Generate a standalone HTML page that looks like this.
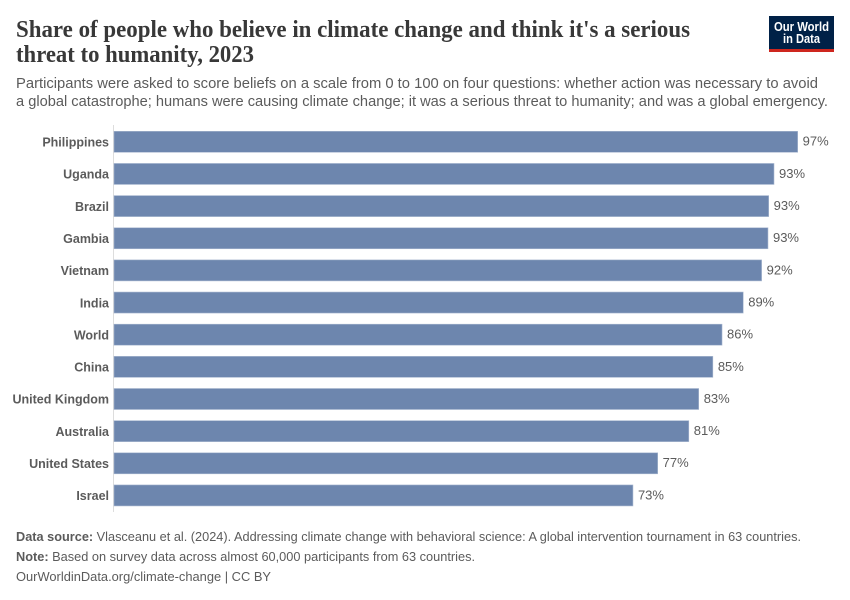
<!DOCTYPE html>
<html lang="en">
<head>
<meta charset="utf-8">
<title>Share of people who believe in climate change</title>
<style>
html,body{margin:0;padding:0;background:#fff;width:850px;height:600px;overflow:hidden}
svg{display:block;font-family:"Liberation Sans",sans-serif}
</style>
</head>
<body>
<svg id="chart" width="850" height="600" viewBox="0 0 850 600" xmlns="http://www.w3.org/2000/svg">
  <rect x="0" y="0" width="850" height="600" fill="#ffffff"/>
  <g font-family="'Liberation Serif',serif" font-weight="700" font-size="24" fill="#383838">
    <text x="16" y="37" textLength="674" lengthAdjust="spacingAndGlyphs">Share of people who believe in climate change and think it's a serious</text>
    <text x="16" y="62" textLength="238" lengthAdjust="spacingAndGlyphs">threat to humanity, 2023</text>
  </g>
  <g font-size="15" fill="#5b5b5b">
    <text x="16" y="88" textLength="802" lengthAdjust="spacingAndGlyphs">Participants were asked to score beliefs on a scale from 0 to 100 on four questions: whether action was necessary to avoid</text>
    <text x="16" y="106" textLength="812" lengthAdjust="spacingAndGlyphs">a global catastrophe; humans were causing climate change; it was a serious threat to humanity; and was a global emergency.</text>
  </g>
  <g>
    <rect x="769" y="16" width="65" height="36" fill="#002147"/>
    <rect x="769" y="49" width="65" height="3" fill="#ce261e"/>
    <text x="801.5" y="31" text-anchor="middle" font-size="12.5" font-weight="700" fill="#ffffff" textLength="55" lengthAdjust="spacingAndGlyphs">Our World</text>
    <text x="801.5" y="43" text-anchor="middle" font-size="12.5" font-weight="700" fill="#ffffff" textLength="37" lengthAdjust="spacingAndGlyphs">in Data</text>
  </g>
  <line x1="113.5" y1="125" x2="113.5" y2="512" stroke="#dddddd" stroke-width="1"/>
  <g id="rows"></g>
  <g font-size="13" fill="#5b5b5b">
    <text x="16" y="541" textLength="785" lengthAdjust="spacingAndGlyphs"><tspan font-weight="700">Data source:</tspan> Vlasceanu et al. (2024). Addressing climate change with behavioral science: A global intervention tournament in 63 countries.</text>
    <text x="16" y="561" textLength="459" lengthAdjust="spacingAndGlyphs"><tspan font-weight="700">Note:</tspan> Based on survey data across almost 60,000 participants from 63 countries.</text>
    <text x="16" y="581" textLength="255" lengthAdjust="spacingAndGlyphs">OurWorldinData.org/climate-change | CC BY</text>
  </g>
</svg>
<script>
const countries = ["Philippines","Uganda","Brazil","Gambia","Vietnam","India","World","China","United Kingdom","Australia","United States","Israel"];
const shareValues = [96.7,93.35,92.6,92.5,91.6,89.0,86.0,84.7,82.7,81.3,76.9,73.4];

function xScale(v){ return 114 + v * 7.07; }
function yScale(i){ return 131.3 + i * 32.15; }
const barHeight = 21;

const svgNS = "http://www.w3.org/2000/svg";
const rows = document.getElementById("rows");

countries.forEach(function(country, i){
  const value = shareValues[i];
  const slug = country.toLowerCase().replace(/\s+/g, "-");
  const top = yScale(i);

  const bar = document.createElementNS(svgNS, "rect");
  
  
  bar.setAttribute("x", xScale(0));
  bar.setAttribute("y", top);
  bar.setAttribute("width", xScale(value) - xScale(0));
  bar.setAttribute("height", barHeight);
  bar.setAttribute("fill", "#6d86ae");
  bar.setAttribute("stroke", "#a9b8d0");
  bar.setAttribute("stroke-width", "0.6");
  rows.appendChild(bar);

  const label = document.createElementNS(svgNS, "text");
  
  
  label.setAttribute("x", 109);
  label.setAttribute("y", top + 15.2);
  label.setAttribute("text-anchor", "end");
  label.setAttribute("font-size", "12.5");
  label.setAttribute("font-weight", "700");
  label.setAttribute("fill", "#5b5b5b");
  label.textContent = country;
  rows.appendChild(label);

  const valueLabel = document.createElementNS(svgNS, "text");
  
  
  valueLabel.setAttribute("x", xScale(value) + 5);
  valueLabel.setAttribute("y", top + 14.4);
  valueLabel.setAttribute("font-size", "13");
  valueLabel.setAttribute("fill", "#5b5b5b");
  valueLabel.textContent = Math.round(value) + "%";
  rows.appendChild(valueLabel);
});
</script>
</body>
</html>
